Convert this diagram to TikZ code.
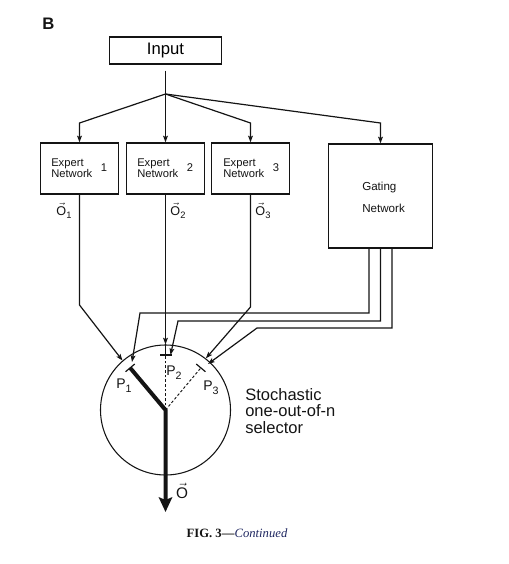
\documentclass[tikz,border=0pt]{standalone}
\usepackage{amsmath}
\usepackage{fontspec}
\setmainfont{Liberation Sans}
\newfontfamily\capfont{Liberation Serif}
\usepackage{xcolor}
\usepackage{tikz}
\usetikzlibrary{calc,arrows.meta,positioning}
\definecolor{figInk}{RGB}{20,20,20}
\definecolor{capNavy}{RGB}{30,38,96}
\newcommand{\vecsub}[2]{\ensuremath{\vec{\text{#1}}}\raisebox{-2.2pt}{\fontsize{7}{8}\selectfont #2}}
\newcommand{\probsub}[1]{P\raisebox{-3pt}{\fontsize{8}{9}\selectfont #1}}

\begin{document}
\begin{tikzpicture}[x=0.75pt,y=-0.75pt,
  netbox/.style={draw=figInk, line width=0.9pt, minimum width=58.5pt, minimum height=38.25pt, inner sep=0},
  txt/.style={inner sep=0, text=figInk},
  feed/.style={-{Stealth[length=5pt,width=3.6pt,inset=1pt]}, line width=0.9pt, draw=figInk},
  tickmark/.style={line width=0.9pt, draw=figInk}]
\useasboundingbox (0,0) rectangle (509,564);
\node[txt, anchor=west, font=\fontsize{12.5}{14}\selectfont\bfseries] (panel) at (42,24) {B};
\node[draw=figInk, line width=0.9pt, minimum width=84pt, minimum height=20.25pt, inner sep=0, font=\fontsize{12.5}{14}\selectfont] (input) at (165.5,50.5) {Input};
\coordinate (split) at (165.5,94);
\coordinate (knee) at (0,123);
\node[netbox] (ex1) at (79.5,168.5) {};
\node[netbox] (ex2) at (165.5,168.5) {};
\node[netbox] (ex3) at (250.5,168.5) {};
\node[draw=figInk, line width=0.9pt, minimum size=78pt, inner sep=0] (gate) at (380.5,196) {};
\node[txt, anchor=west, align=left, font=\fontsize{8.4}{8.3}\selectfont] (ex1lbl) at (51,168.5) {Expert\\Network};
\node[txt, font=\fontsize{8.4}{10}\selectfont] (ex1num) at (104,168) {1};
\node[txt, anchor=west, align=left, font=\fontsize{8.4}{8.3}\selectfont] (ex2lbl) at (137,168.5) {Expert\\Network};
\node[txt, font=\fontsize{8.4}{10}\selectfont] (ex2num) at (190,168) {2};
\node[txt, anchor=west, align=left, font=\fontsize{8.4}{8.3}\selectfont] (ex3lbl) at (223,168.5) {Expert\\Network};
\node[txt, font=\fontsize{8.4}{10}\selectfont] (ex3num) at (276,168) {3};
\node[txt, anchor=west, align=left, font=\fontsize{8.7}{16.5}\selectfont] (gatelbl) at (362,197) {Gating\\Network};
\node[txt, font=\fontsize{9.5}{10}\selectfont] (o1) at (64,211) {\vecsub{O}{1}};
\node[txt, font=\fontsize{9.5}{10}\selectfont] (o2) at (178,211) {\vecsub{O}{2}};
\node[txt, font=\fontsize{9.5}{10}\selectfont] (o3) at (263,211) {\vecsub{O}{3}};
\draw[line width=0.9pt, figInk, shorten <=4.5pt] (input.south) -- (split);
\draw[feed] (split) -- (ex1.north |- knee) -- (ex1.north);
\draw[feed] (split) -- (ex2.north);
\draw[feed] (split) -- (ex3.north |- knee) -- (ex3.north);
\draw[feed] (split) -- (gate.north |- knee) -- (gate.north);
\node[draw=figInk, line width=0.8pt, circle, minimum size=97.5pt, inner sep=0] (sel) at (165.5,410) {};
\coordinate (hub) at (sel.center);
\coordinate (t1) at ($(sel.center)+(130:41.25pt)$);
\coordinate (t2) at ($(sel.center)+(90:41.25pt)$);
\coordinate (t3) at ($(sel.center)+(50:41.25pt)$);
\coordinate (e1bend) at (79.5,305);
\coordinate (e3bend) at (250.5,307);
\coordinate (g1a) at (369,313);
\coordinate (g1b) at (140,313);
\coordinate (g1tip) at (132,362);
\coordinate (g2a) at (380.5,321);
\coordinate (g2b) at (178,321);
\coordinate (g2tip) at (170.5,355);
\coordinate (g3a) at (392,328);
\coordinate (g3b) at (257,328);
\coordinate (g3tip) at (208,364);
\coordinate (outtip) at (165.5,512);
\draw[feed] (ex1.south) -- (e1bend) -- (sel.131);
\draw[feed] (ex2.south) -- (sel.north);
\draw[feed] (ex3.south) -- (e3bend) -- (sel.52);
\draw[feed] (gate.south -| g1a) -- (g1a) -- (g1b) -- (g1tip);
\draw[feed] (gate.south -| g2a) -- (g2a) -- (g2b) -- (g2tip);
\draw[feed] (gate.south -| g3a) -- (g3a) -- (g3b) -- (g3tip);
\draw[line width=0.9pt, figInk] (sel.north) -- (t2);
\draw[line width=0.7pt, figInk, dash pattern=on 2pt off 1.5pt] (hub) -- (t2);
\draw[line width=0.7pt, figInk, dash pattern=on 2pt off 1.5pt] (hub) -- (t3);
\draw[line width=3pt, figInk, -{Stealth[length=11pt,width=10pt,inset=2pt]}] (t1) -- (hub) -- (outtip);
\draw[tickmark] ($(t1)+(40:4.5pt)$) -- ($(t1)+(220:4.5pt)$);
\draw[tickmark] ($(t2)+(0:4.5pt)$) -- ($(t2)+(180:4.5pt)$);
\draw[tickmark] ($(t3)+(140:4.5pt)$) -- ($(t3)+(-40:4.5pt)$);
\node[txt, font=\fontsize{10.5}{12}\selectfont] (p1) at (124,386) {\probsub{1}};
\node[txt, font=\fontsize{10.5}{12}\selectfont] (p2) at (174,373) {\probsub{2}};
\node[txt, font=\fontsize{10.5}{12}\selectfont] (p3) at (211,388) {\probsub{3}};
\node[txt, anchor=west, align=left, font=\fontsize{12.4}{12.4}\selectfont] (sellbl) at (245,411) {Stochastic\\one-out-of-n\\selector};
\node[txt, font=\fontsize{11.5}{13}\selectfont] (outlbl) at (182,491) {$\vec{\text{O}}$};
\node[txt, font=\capfont\fontsize{9.5}{11}\selectfont] (caption) at (237,533) {\textbf{FIG. 3—}\textcolor{capNavy}{\textit{Continued}}};
\end{tikzpicture}
\end{document}
